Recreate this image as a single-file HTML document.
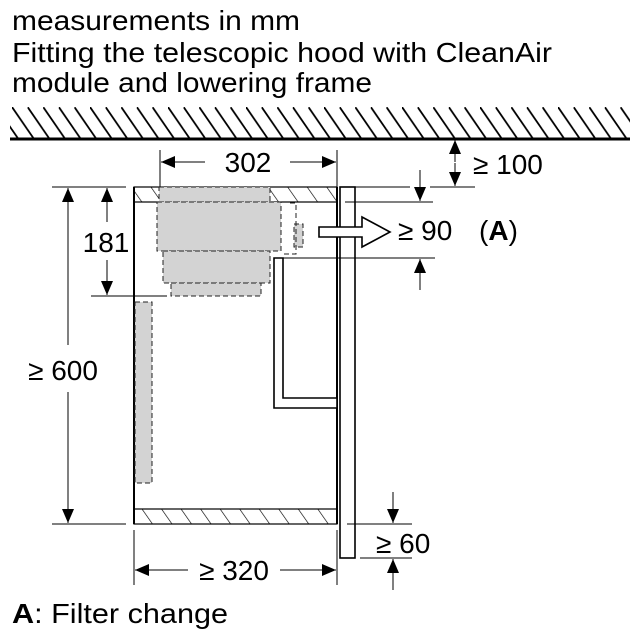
<!DOCTYPE html>
<html><head><meta charset="utf-8"><style>
html,body{margin:0;padding:0;background:#fff;}
svg{display:block;font-family:"Liberation Sans",Arial,sans-serif;}
</style></head><body>
<svg width="640" height="640" viewBox="0 0 640 640" xmlns="http://www.w3.org/2000/svg">
<defs>
<pattern id="h" patternUnits="userSpaceOnUse" width="16" height="16" patternTransform="rotate(-35)">
<line x1="0" y1="0" x2="0" y2="16" stroke="#000" stroke-width="1.3"/>
</pattern>
<pattern id="ceil" patternUnits="userSpaceOnUse" width="15.6" height="32" x="12" y="107">
<line x1="0" y1="0" x2="22" y2="32" stroke="#000" stroke-width="1.8"/>
<line x1="-15.6" y1="0" x2="6.4" y2="32" stroke="#000" stroke-width="1.8"/>
</pattern>
<marker id="a" viewBox="0 0 14 12" refX="14" refY="6" markerWidth="14" markerHeight="12" markerUnits="userSpaceOnUse" orient="auto"><path d="M0,0 L14,6 L0,12 z" fill="#000"/></marker>
</defs>
<g fill="#000" font-size="28">
<text x="12" y="30" textLength="288" lengthAdjust="spacingAndGlyphs">measurements in mm</text>
<text x="12" y="62" textLength="540" lengthAdjust="spacingAndGlyphs">Fitting the telescopic hood with CleanAir</text>
<text x="12" y="92" textLength="360" lengthAdjust="spacingAndGlyphs">module and lowering frame</text>
</g>
<rect x="10" y="107" width="620" height="32" fill="url(#ceil)"/>
<line x1="10" y1="139" x2="630" y2="139" stroke="#000" stroke-width="3"/>

<g stroke="#000" stroke-width="1.2" fill="none">
<rect x="134" y="187" width="203" height="15" fill="url(#h)"/>
<rect x="134" y="509" width="203" height="15" fill="url(#h)"/>
<line x1="134" y1="187" x2="134" y2="524" stroke-width="2"/>
<line x1="337" y1="187" x2="337" y2="524" stroke-width="2"/>
<rect x="340" y="187" width="15" height="371" fill="#fff" stroke-width="1.6"/>
<path d="M274,258 H283 V398 H337 V408 H274 Z" fill="#fff" stroke-width="1.6"/>
</g>
<g fill="#d3d3d3" stroke="#222" stroke-width="1" stroke-dasharray="5,3">
<rect x="159" y="187" width="111" height="15"/>
<rect x="157" y="202" width="124" height="49"/>
<rect x="163" y="251" width="107" height="32"/>
<rect x="171" y="283" width="90" height="13"/>
<rect x="294" y="224" width="9" height="23"/>
<rect x="135" y="302" width="17" height="181"/>
</g>
<path d="M290,203 H296 V254 H284" fill="none" stroke="#222" stroke-width="1" stroke-dasharray="5,3"/>
<path d="M319,227 H362 V217 L390,232 L362,247 V237 H319 Z" fill="#fff" stroke="#000" stroke-width="1.6"/>

<g stroke="#000" stroke-width="1" fill="none">
<line x1="160" y1="150" x2="160" y2="187"/>
<line x1="337" y1="150" x2="337" y2="187"/>
<line x1="205" y1="162" x2="161" y2="162" marker-end="url(#a)"/>
<line x1="290" y1="162" x2="336" y2="162" marker-end="url(#a)"/>
<line x1="455" y1="162" x2="455" y2="140" marker-end="url(#a)"/>
<line x1="455" y1="163" x2="455" y2="186" marker-end="url(#a)"/>
<line x1="430" y1="187" x2="475" y2="187"/>
<line x1="355" y1="187" x2="410" y2="187"/>
<line x1="420" y1="170" x2="420" y2="201" marker-end="url(#a)"/>
<line x1="345" y1="202" x2="433" y2="202"/>
<line x1="420" y1="290" x2="420" y2="259" marker-end="url(#a)"/>
<line x1="283" y1="258" x2="435" y2="258"/>
<line x1="52" y1="187" x2="126" y2="187"/>
<line x1="52" y1="524" x2="126" y2="524"/>
<line x1="68" y1="345" x2="68" y2="188" marker-end="url(#a)"/>
<line x1="68" y1="392" x2="68" y2="523" marker-end="url(#a)"/>
<line x1="107" y1="222" x2="107" y2="188" marker-end="url(#a)"/>
<line x1="107" y1="260" x2="107" y2="295" marker-end="url(#a)"/>
<line x1="91" y1="296" x2="167" y2="296"/>
<line x1="134" y1="530" x2="134" y2="585"/>
<line x1="337" y1="530" x2="337" y2="585"/>
<line x1="188" y1="570" x2="135" y2="570" marker-end="url(#a)"/>
<line x1="280" y1="570" x2="336" y2="570" marker-end="url(#a)"/>
<line x1="393" y1="492" x2="393" y2="523" marker-end="url(#a)"/>
<line x1="347" y1="524" x2="412" y2="524"/>
<line x1="393" y1="590" x2="393" y2="559" marker-end="url(#a)"/>
<line x1="360" y1="558" x2="412" y2="558"/>
</g>
<g fill="#000" font-size="28">
<text x="248" y="172" text-anchor="middle">302</text>
<text x="473" y="174">≥ 100</text>
<text x="398" y="240">≥ 90</text>
<text x="479" y="240">(<tspan font-weight="bold">A</tspan>)</text>
<text x="106" y="252" text-anchor="middle">181</text>
<text x="63" y="380" text-anchor="middle">≥ 600</text>
<text x="234" y="580" text-anchor="middle">≥ 320</text>
<text x="376" y="553">≥ 60</text>
<text x="12" y="623" textLength="216" lengthAdjust="spacingAndGlyphs"><tspan font-weight="bold">A</tspan>:  Filter change</text>
</g>
</svg>
</body></html>
